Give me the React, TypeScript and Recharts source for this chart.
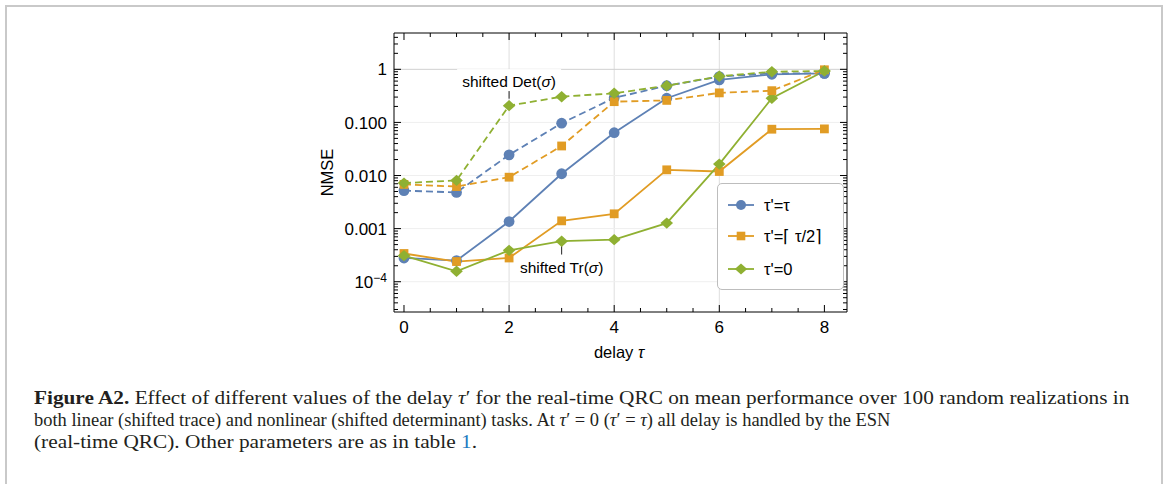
import React, { useLayoutEffect, useRef, useState } from 'react';
import { LineChart, Line, XAxis, YAxis, ReferenceLine, ReferenceDot, Legend } from 'recharts';

// ---------- data ----------
const delays = [0, 1, 2, 3, 4, 5, 6, 7, 8];
// tau' = tau
const fullTr = [2.8e-4, 2.5e-4, 1.36e-3, 0.0108, 0.064, 0.285, 0.63, 0.806, 0.84];
const fullDet = [0.0052, 0.0048, 0.0245, 0.0966, 0.29, 0.49, 0.73, 0.84, 0.84];
// tau' = ceil(tau/2)
const halfTr = [3.4e-4, 2.4e-4, 2.8e-4, 1.4e-3, 1.9e-3, 0.0128, 0.0119, 0.0745, 0.0755];
const halfDet = [0.0068, 0.0062, 0.0093, 0.036, 0.246, 0.26, 0.36, 0.396, 0.98];
// tau' = 0
const zeroTr = [3.1e-4, 1.57e-4, 3.9e-4, 5.8e-4, 6.2e-4, 1.27e-3, 0.0164, 0.285, 0.93];
const zeroDet = [0.0072, 0.0081, 0.207, 0.305, 0.354, 0.49, 0.74, 0.9, 0.93];

const legendLabels = ["τ'=τ", "τ'=⌈ τ/2⌉", "τ'=0"];

const xTicks = [0, 0.5, 1, 1.5, 2, 2.5, 3, 3.5, 4, 4.5, 5, 5.5, 6, 6.5, 7, 7.5, 8];
const xMajorTicks = [0, 2, 4, 6, 8];
const xGrid = [2, 4, 6];
const yMajorTicks = [1e-4, 1e-3, 1e-2, 1e-1, 1];
const yTickLabels = ['10^-4', '0.001', '0.010', '0.100', '1'];
const xDomain = [-0.19, 8.43];
const yDomain = [2.69e-5, 4.83];

// minor log ticks (2..9 x decade) inside the domain
const yMinorTicks: number[] = [];
[1e-5, 1e-4, 1e-3, 1e-2, 1e-1, 1].forEach((d) => {
  for (let m = 2; m <= 9; m++) {
    const v = m * d;
    if (v > yDomain[0] && v < yDomain[1]) yMinorTicks.push(Number(v.toPrecision(3)));
  }
});
const yTicks = [...yMajorTicks, ...yMinorTicks].sort((a, b) => a - b);

const data = delays.map((d, i) => ({
  delay: d,
  fullTr: fullTr[i],
  fullDet: fullDet[i],
  halfTr: halfTr[i],
  halfDet: halfDet[i],
  zeroTr: zeroTr[i],
  zeroDet: zeroDet[i],
}));

// ---------- style ----------
const BLUE = '#5E81B5';
const ORANGE = '#E19C24';
const GREEN = '#8FB032';
const FONT = '"Liberation Sans", Arial, sans-serif';
const TICK_FS = 17;
const DASH = '7 4';

const isMajorY = (v: number) => yMajorTicks.some((t) => Math.abs(t - v) / t < 1e-6);
const yLabelOf = (v: number) => {
  const i = yMajorTicks.findIndex((t) => Math.abs(t - v) / t < 1e-6);
  return i >= 0 ? yTickLabels[i] : '';
};

const LeftTick = (p: any) => {
  const v = p.payload.value;
  const major = isMajorY(v);
  const label = yLabelOf(v);
  return (
    <g>
      <line x1={p.x} x2={p.x + (major ? 7 : 4)} y1={p.y} y2={p.y} stroke="#000" strokeWidth={1} />
      {major && (
        <text x={p.x - 7} y={p.y} dy="0.36em" textAnchor="end" fontSize={TICK_FS} fontFamily={FONT} fill="#000">
          {label.startsWith('10^') ? (
            <>
              10
              <tspan dy="-0.45em" fontSize={12}>
                {'−' + label.slice(4)}
              </tspan>
            </>
          ) : (
            label
          )}
        </text>
      )}
    </g>
  );
};

const RightTick = (p: any) => {
  const major = isMajorY(p.payload.value);
  return <line x1={p.x} x2={p.x - (major ? 7 : 4)} y1={p.y} y2={p.y} stroke="#000" strokeWidth={1} />;
};

const BottomTick = (p: any) => {
  const v = p.payload.value;
  const major = xMajorTicks.includes(v);
  return (
    <g>
      <line x1={p.x} x2={p.x} y1={p.y} y2={p.y - (major ? 7 : 4)} stroke="#000" strokeWidth={1} />
      {major && (
        <text x={p.x} y={p.y + 21} textAnchor="middle" fontSize={TICK_FS} fontFamily={FONT} fill="#000">
          {v}
        </text>
      )}
    </g>
  );
};

const TopTick = (p: any) => {
  const major = xMajorTicks.includes(p.payload.value);
  return <line x1={p.x} x2={p.x} y1={p.y} y2={p.y + (major ? 7 : 4)} stroke="#000" strokeWidth={1} />;
};

const circleDot = (p: any) =>
  p.cx == null ? <g key={`c${p.index}`} /> : <circle key={`c${p.index}`} cx={p.cx} cy={p.cy} r={5.4} fill={BLUE} />;
const squareDot = (p: any) =>
  p.cx == null ? <g key={`s${p.index}`} /> : (
    <rect key={`s${p.index}`} x={p.cx - 4.4} y={p.cy - 4.4} width={8.8} height={8.8} fill={ORANGE} />
  );
const diamondDot = (p: any) =>
  p.cx == null ? <g key={`d${p.index}`} /> : (
    <polygon
      key={`d${p.index}`}
      points={`${p.cx},${p.cy - 5.7} ${p.cx + 6.3},${p.cy} ${p.cx},${p.cy + 5.7} ${p.cx - 6.3},${p.cy}`}
      fill={GREEN}
    />
  );

const LegendMarker = ({ kind, color }: { kind: number; color: string }) => (
  <svg width={26} height={14} style={{ display: 'block' }}>
    <line x1={0} x2={26} y1={7} y2={7} stroke={color} strokeWidth={1.8} />
    {kind === 0 && <circle cx={13} cy={7} r={5} fill={color} />}
    {kind === 1 && <rect x={8.7} y={2.7} width={8.6} height={8.6} fill={color} />}
    {kind === 2 && <polygon points="13,1.4 19.2,7 13,12.6 6.8,7" fill={color} />}
  </svg>
);

const legendColors = [BLUE, ORANGE, GREEN];
const legendRowCenters = [20.5, 51.5, 85];

const LegendBox = () => (
  <div
    style={{
      position: 'relative',
      width: 127,
      height: 107,
      boxSizing: 'border-box',
      border: '1px solid #bdbdbd',
      borderRadius: 5,
      background: '#fff',
      fontFamily: FONT,
    }}
  >
    {legendLabels.map((lab, i) => (
      <div
        key={lab}
        style={{
          position: 'absolute',
          left: 10,
          top: legendRowCenters[i] - 10,
          height: 20,
          display: 'flex',
          alignItems: 'center',
          whiteSpace: 'nowrap',
        }}
      >
        <LegendMarker kind={i} color={legendColors[i]} />
        <span style={{ marginLeft: 10, fontSize: 16.5, color: '#000', lineHeight: '20px' }}>{lab}</span>
      </div>
    ))}
  </div>
);

const DetLabel = (p: any) => (
  <g>
    <rect x={p.cx - 52} y={p.cy - 12} width={104} height={22} fill="#fff" />
    <text x={p.cx} y={p.cy} dy="0.36em" textAnchor="middle" fontSize={15.5} fontFamily={FONT} fill="#000">
      shifted Det(<tspan fontStyle="italic">σ</tspan>)
    </text>
  </g>
);
const TrLabel = (p: any) => (
  <g>
    <rect x={p.cx - 45} y={p.cy - 10} width={90} height={20} fill="#fff" />
    <text x={p.cx} y={p.cy} dy="0.36em" textAnchor="middle" fontSize={15.5} fontFamily={FONT} fill="#000">
      shifted Tr(<tspan fontStyle="italic">σ</tspan>)
    </text>
  </g>
);

const CAPTION_FONT = '"Liberation Serif", "Times New Roman", serif';
const captionColor = '#231f20';

const CaptionLine = ({ width, top, children }: { width: number; top: number; children: React.ReactNode }) => {
  const ref = useRef<HTMLSpanElement>(null);
  const [k, setK] = useState(1);
  useLayoutEffect(() => {
    if (ref.current) {
      const w = ref.current.offsetWidth;
      if (w > 0) setK(width / w);
    }
  }, [width]);
  return (
    <span
      ref={ref}
      style={{
        position: 'absolute',
        left: 34,
        top,
        whiteSpace: 'nowrap',
        transform: `scaleX(${k})`,
        transformOrigin: '0 0',
        fontFamily: CAPTION_FONT,
        fontSize: 19.5,
        lineHeight: '22px',
        color: captionColor,
      }}
    >
      {children}
    </span>
  );
};

export default function App() {
  return (
    <div style={{ position: 'absolute', left: 0, top: 0, width: 1165, height: 484, overflow: 'hidden', background: '#fff' }}>
      <div
        style={{
          position: 'absolute',
          left: 5,
          top: 5,
          width: 1158,
          height: 479,
          boxSizing: 'border-box',
          borderTop: '2px solid #c9c9c9',
          borderLeft: '2px solid #c9c9c9',
          borderRight: '2px solid #c9c9c9',
        }}
      />
      <div style={{ position: 'absolute', left: 0, top: 0 }}>
        <LineChart
          width={1165}
          height={370}
          data={data}
          margin={{ top: 32, right: 317, bottom: 57, left: 393 }}
        >
          {xGrid.map((g) => (
            <ReferenceLine key={`gx${g}`} x={g} stroke="#dedede" strokeWidth={1} />
          ))}
          {yMajorTicks.map((g) => (
            <ReferenceLine key={`gy${g}`} y={g} stroke={g === 1 ? '#d0d0d0' : '#efefef'} strokeWidth={1} />
          ))}
          <XAxis
            dataKey="delay"
            type="number"
            domain={xDomain}
            ticks={xTicks}
            interval={0}
            height={1}
            tickSize={0}
            tickMargin={0}
            tickLine={false}
            tick={(p: any) => <BottomTick {...p} />}
            axisLine={{ stroke: '#000', strokeWidth: 1 }}
            allowDataOverflow
          />
          <XAxis
            xAxisId="top"
            orientation="top"
            dataKey="delay"
            type="number"
            domain={xDomain}
            ticks={xTicks}
            interval={0}
            height={1}
            tickSize={0}
            tickMargin={0}
            tickLine={false}
            tick={(p: any) => <TopTick {...p} />}
            axisLine={{ stroke: '#000', strokeWidth: 1 }}
            allowDataOverflow
          />
          <YAxis
            scale="log"
            type="number"
            domain={yDomain}
            ticks={yTicks}
            interval={0}
            width={1}
            tickSize={0}
            tickMargin={0}
            tickLine={false}
            tick={(p: any) => <LeftTick {...p} />}
            axisLine={{ stroke: '#000', strokeWidth: 1 }}
            allowDataOverflow
          />
          <YAxis
            yAxisId="right"
            orientation="right"
            scale="log"
            type="number"
            domain={yDomain}
            ticks={yTicks}
            interval={0}
            width={1}
            tickSize={0}
            tickMargin={0}
            tickLine={false}
            tick={(p: any) => <RightTick {...p} />}
            axisLine={{ stroke: '#000', strokeWidth: 1 }}
            allowDataOverflow
          />
          <ReferenceDot x={2} y={0.6} r={0} shape={(p: any) => <DetLabel {...p} />} />
          <ReferenceDot x={3} y={1.84e-4} r={0} shape={(p: any) => <TrLabel {...p} />} />
          <ReferenceLine segment={[{ x: 2, y: 0.4 }, { x: 2, y: 0.28 }]} stroke="#222" strokeWidth={1} />
          <ReferenceLine segment={[{ x: 3, y: 5.8e-4 }, { x: 3, y: 3.25e-4 }]} stroke="#222" strokeWidth={1} />

          <Line dataKey="fullTr" stroke={BLUE} strokeWidth={1.8} dot={circleDot} activeDot={false} isAnimationActive={false} />
          <Line dataKey="halfTr" stroke={ORANGE} strokeWidth={1.8} dot={squareDot} activeDot={false} isAnimationActive={false} />
          <Line dataKey="zeroTr" stroke={GREEN} strokeWidth={1.8} dot={diamondDot} activeDot={false} isAnimationActive={false} />
          <Line dataKey="fullDet" stroke={BLUE} strokeWidth={1.8} strokeDasharray={DASH} dot={circleDot} activeDot={false} isAnimationActive={false} />
          <Line dataKey="halfDet" stroke={ORANGE} strokeWidth={1.8} strokeDasharray={DASH} dot={squareDot} activeDot={false} isAnimationActive={false} />
          <Line dataKey="zeroDet" stroke={GREEN} strokeWidth={1.8} strokeDasharray={DASH} dot={diamondDot} activeDot={false} isAnimationActive={false} />

          <Legend
            layout="vertical"
            align="center"
            verticalAlign="middle"
            wrapperStyle={{ left: 717, top: 183, width: 127, height: 107 }}
            content={() => <LegendBox />}
          />
        </LineChart>
      </div>
      <svg width={1165} height={370} style={{ position: 'absolute', left: 0, top: 0, pointerEvents: 'none' }}>
        <text x={327} y={172.5} transform="rotate(-90 327 172.5)" dy="0.36em" textAnchor="middle" fontSize={16.5} fontFamily={FONT} fill="#000">
          NMSE
        </text>
        <text x={619} y={358} textAnchor="middle" fontSize={16.5} fontFamily={FONT} fill="#000">
          delay <tspan fontStyle="italic">τ</tspan>
        </text>
      </svg>
      <CaptionLine width={1095} top={387.4}>
        <b>Figure A2.</b> Effect of different values of the delay <i>τ</i>′ for the real-time QRC on mean performance over 100 random realizations in
      </CaptionLine>
      <CaptionLine width={856} top={409.4}>
        both linear (shifted trace) and nonlinear (shifted determinant) tasks. At <i>τ</i>′ = 0 (<i>τ</i>′ = <i>τ</i>) all delay is handled by the ESN
      </CaptionLine>
      <CaptionLine width={443} top={431.4}>
        (real-time QRC). Other parameters are as in table <span style={{ color: '#1f7bc1' }}>1</span>.
      </CaptionLine>
    </div>
  );
}
